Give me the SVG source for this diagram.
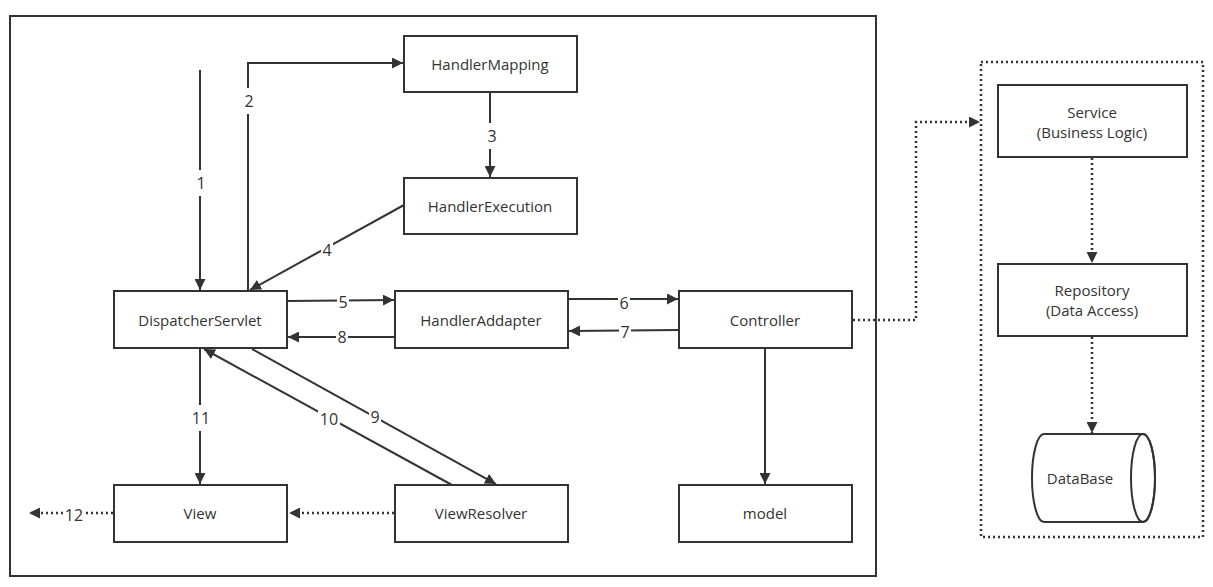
<svg xmlns="http://www.w3.org/2000/svg" width="1213" height="587" viewBox="0 0 1213 587">
<defs>
<marker id="ah" viewBox="0 0 10 10" refX="10" refY="5" markerWidth="11" markerHeight="11" markerUnits="userSpaceOnUse" orient="auto">
<path d="M0,0 L10,5 L0,10 Z" fill="#333"/>
</marker>
<style>
.box{fill:#fff;stroke:#333;stroke-width:2}
.t{font-family:"Open Sans","Noto Sans",sans-serif;font-size:15px;fill:#333;text-anchor:middle;dominant-baseline:central}
.n{font-family:"Open Sans","Noto Sans",sans-serif;font-size:16px;fill:#333;text-anchor:middle;dominant-baseline:central}
.bg{fill:#fff}
.c{fill:none;stroke:#333;stroke-width:2}
.d{fill:none;stroke:#333;stroke-width:2.5;stroke-dasharray:2 3}
</style>
</defs>
<rect x="0" y="0" width="1213" height="587" fill="#fff"/>
<rect x="10" y="16" width="866" height="560" fill="none" stroke="#333" stroke-width="2"/>
<rect x="981" y="62" width="222" height="475" fill="none" stroke="#333" stroke-width="2.5" stroke-dasharray="2 3"/>

<g id="connectors">
<line class="c" x1="200" y1="70" x2="200" y2="290" marker-end="url(#ah)"/>
<polyline class="c" points="248,290 248,63 403,63" marker-end="url(#ah)"/>
<line class="c" x1="490" y1="92" x2="490" y2="177" marker-end="url(#ah)"/>
<line class="c" x1="404" y1="205" x2="250" y2="290" marker-end="url(#ah)"/>
<line class="c" x1="288" y1="301" x2="394" y2="300" marker-end="url(#ah)"/>
<line class="c" x1="394" y1="337" x2="288" y2="337" marker-end="url(#ah)"/>
<line class="c" x1="568" y1="299" x2="678" y2="299" marker-end="url(#ah)"/>
<line class="c" x1="679" y1="330" x2="569" y2="331" marker-end="url(#ah)"/>
<line class="c" x1="765" y1="348" x2="765" y2="484" marker-end="url(#ah)"/>
<line class="c" x1="200" y1="349" x2="200" y2="484" marker-end="url(#ah)"/>
<line class="c" x1="452" y1="485" x2="204" y2="349" marker-end="url(#ah)"/>
<line class="c" x1="252" y1="349" x2="496" y2="484" marker-end="url(#ah)"/>
<line class="d" x1="394" y1="513" x2="289" y2="513" marker-end="url(#ah)"/>
<line class="d" x1="113" y1="513" x2="29" y2="513" marker-end="url(#ah)"/>
<polyline class="d" points="853,320 916,320 916,122 980,122" marker-end="url(#ah)"/>
<line class="d" x1="1092" y1="158" x2="1092" y2="263" marker-end="url(#ah)"/>
<line class="d" x1="1092" y1="337" x2="1092" y2="433" marker-end="url(#ah)"/>
<rect class="bg" x="195" y="170" width="12" height="26"/><text class="n" x="201" y="183">1</text>
<rect class="bg" x="243" y="88" width="12" height="26"/><text class="n" x="249" y="101">2</text>
<rect class="bg" x="486" y="123" width="12" height="26"/><text class="n" x="492" y="136">3</text>
<rect class="bg" x="321" y="240" width="12" height="20"/><text class="n" x="327" y="250">4</text>
<rect class="bg" x="337" y="292" width="12" height="20"/><text class="n" x="343" y="302">5</text>
<rect class="bg" x="336" y="327" width="12" height="20"/><text class="n" x="342" y="337">8</text>
<rect class="bg" x="618" y="293" width="12" height="20"/><text class="n" x="624" y="303">6</text>
<rect class="bg" x="619" y="322" width="12" height="20"/><text class="n" x="625" y="332">7</text>
<rect class="bg" x="190" y="405" width="22" height="26"/><text class="n" x="201" y="418">11</text>
<rect class="bg" x="318" y="409" width="22" height="20"/><text class="n" x="329" y="419">10</text>
<rect class="bg" x="369" y="407" width="12" height="20"/><text class="n" x="375" y="417">9</text>
<rect class="bg" x="63" y="505" width="22" height="20"/><text class="n" x="74" y="515">12</text>
</g>

<g id="HandlerMapping"><rect class="box" x="404" y="36" width="173" height="56"/><text class="t" x="490" y="64">HandlerMapping</text></g>
<g id="HandlerExecution"><rect class="box" x="404" y="178" width="173" height="56"/><text class="t" x="490" y="206">HandlerExecution</text></g>
<g id="DispatcherServlet"><rect class="box" x="114" y="291" width="173" height="57"/><text class="t" x="200" y="320">DispatcherServlet</text></g>
<g id="HandlerAddapter"><rect class="box" x="395" y="291" width="173" height="57"/><text class="t" x="481" y="320">HandlerAddapter</text></g>
<g id="Controller"><rect class="box" x="679" y="291" width="173" height="57"/><text class="t" x="765" y="320">Controller</text></g>
<g id="View"><rect class="box" x="114" y="485" width="173" height="57"/><text class="t" x="200" y="513">View</text></g>
<g id="ViewResolver"><rect class="box" x="395" y="485" width="173" height="57"/><text class="t" x="481" y="513">ViewResolver</text></g>
<g id="model"><rect class="box" x="679" y="485" width="173" height="57"/><text class="t" x="765" y="513">model</text></g>
<g id="Service"><rect class="box" x="998" y="85" width="189" height="72"/><text class="t" x="1092" y="112">Service</text><text class="t" x="1092" y="132">(Business Logic)</text></g>
<g id="Repository"><rect class="box" x="998" y="264" width="189" height="72"/><text class="t" x="1092" y="290">Repository</text><text class="t" x="1092" y="310">(Data Access)</text></g>
<g id="DataBase">
<path class="box" d="M1044,434 L1143,434 A12,44 0 0 1 1143,522 L1044,522 A12,44 0 0 1 1044,434 Z"/>
<ellipse cx="1143" cy="478" rx="12" ry="44" fill="none" stroke="#333" stroke-width="2"/>
<text class="t" x="1080" y="478">DataBase</text>
</g>
</svg>
